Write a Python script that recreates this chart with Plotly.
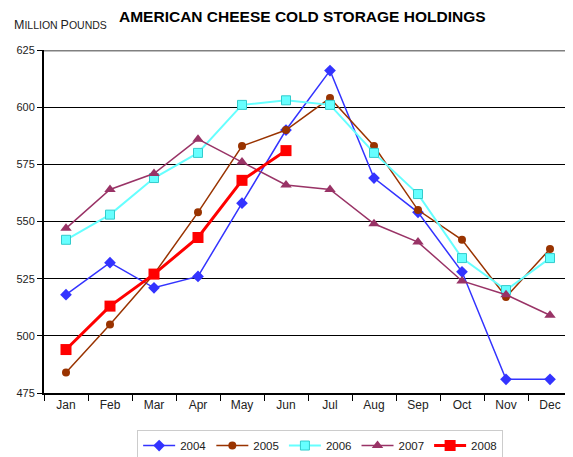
import plotly.graph_objects as go

months = ["Jan", "Feb", "Mar", "Apr", "May", "Jun", "Jul", "Aug", "Sep", "Oct", "Nov", "Dec"]
y2004 = [518, 532, 521, 526, 558, 590, 616, 569, 554, 528, 481, 481]
y2005 = [484, 505, 527, 554, 583, 590, 604, 583, 555, 542, 517, 538]
y2006 = [542, 553, 569, 580, 601, 603, 601, 580, 562, 534, 520, 534]
y2007 = [547, 564, 571, 586, 576, 566, 564, 549, 541, 524, 518, 509]
y2008 = [494, 513, 527, 543, 568, 581]
years = ["2004", "2005", "2006", "2007", "2008"]
yticks = [475, 500, 525, 550, 575, 600, 625]

FONT = "Liberation Sans, Arial, sans-serif"
fig = go.Figure()

fig.add_trace(go.Scatter(x=months, y=y2004, name=years[0], mode="lines+markers",
                         line=dict(color="#3333FF", width=1.5),
                         marker=dict(symbol="diamond", size=9, color="#3333FF")))
fig.add_trace(go.Scatter(x=months, y=y2005, name=years[1], mode="lines+markers",
                         line=dict(color="#993300", width=1.5),
                         marker=dict(symbol="circle", size=8, color="#993300")))
fig.add_trace(go.Scatter(x=months, y=y2006, name=years[2], mode="lines+markers",
                         line=dict(color="#66FFFF", width=2),
                         marker=dict(symbol="square", size=9, color="#66FFFF",
                                     line=dict(color="#33CCCC", width=1))))
fig.add_trace(go.Scatter(x=months, y=y2007, name=years[3], mode="lines+markers",
                         line=dict(color="#993366", width=1.5),
                         marker=dict(symbol="triangle-up", size=10, color="#993366")))
fig.add_trace(go.Scatter(x=months[:len(y2008)], y=y2008, name=years[4], mode="lines+markers",
                         line=dict(color="#FF0000", width=3),
                         marker=dict(symbol="square", size=11, color="#FF0000")))

fig.update_layout(
    width=573, height=457,
    margin=dict(l=36, r=9, t=42, b=72, autoexpand=False),
    paper_bgcolor="white", plot_bgcolor="white",
    font=dict(family=FONT, size=11, color="#222"),
    showlegend=True,
    legend=dict(orientation="h", x=0.523, xanchor="center", y=-0.108, yanchor="top",
                bordercolor="#cccccc", borderwidth=1, font=dict(size=11.5, color="#222"),
                itemwidth=32, tracegroupgap=0),
    xaxis=dict(range=[-0.5, 11.5], showgrid=False, showline=True, linecolor="black",
               linewidth=2, ticks="outside", tickson="boundaries", ticklen=6,
               tickcolor="black", tickfont=dict(size=12, color="#222"), automargin=False),
    yaxis=dict(range=[475, 625], tickvals=yticks, showgrid=True, gridcolor="black",
               gridwidth=1, showline=True, linecolor="black", linewidth=2,
               ticks="outside", ticklen=5, tickcolor="black", zeroline=False,
               tickfont=dict(size=11, color="#222"), automargin=False),
    shapes=[dict(type="line", xref="paper", yref="y", x0=0, x1=1, y0=625, y1=625,
                 line=dict(color="#808080", width=3))],
    annotations=[
        dict(text="<b>AMERICAN CHEESE COLD STORAGE HOLDINGS</b>", xref="paper", yref="paper",
             x=0.49, y=1.099, xanchor="center", yanchor="middle", showarrow=False,
             font=dict(size=15.5, family=FONT, color="black")),
        dict(text="<span style='font-size:12.5px'>M</span>ILLION <span style='font-size:12.5px'>P</span>OUNDS",
             xref="paper", yref="paper", x=-0.06, y=1.073, xanchor="left", yanchor="middle",
             showarrow=False, font=dict(size=10.5, family=FONT, color="#222")),
    ],
)

fig.write_html("out.html")
